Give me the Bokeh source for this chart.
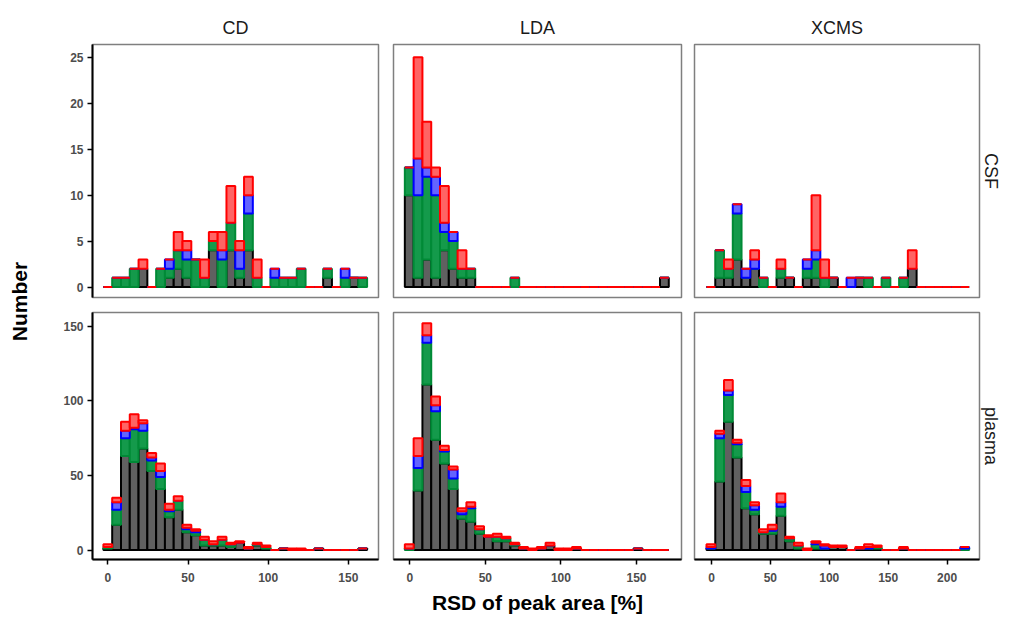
from math import pi
from bokeh.plotting import figure
from bokeh.models import Range1d, Title, FixedTicker, ColumnDataSource
from bokeh.layouts import row, column
from bokeh.core.properties import value
from bokeh.embed import file_html
from bokeh.resources import INLINE

# ---------------- data ----------------
methods = ["CD", "LDA", "XCMS"]
matrices = ["CSF", "plasma"]
layers = ["k", "g", "b", "r"]          # stacking order: bottom -> top

n_bins = 30
bin_start = {"CD": -2.8, "LDA": -3.3, "XCMS": -4.2}
bin_width = {"CD": 5.483, "LDA": 5.823, "XCMS": 7.43}

x_ticks = {"CD": [0, 50, 100, 150], "LDA": [0, 50, 100, 150], "XCMS": [0, 50, 100, 150, 200]}
y_ticks = {"CSF": [0, 5, 10, 15, 20, 25], "plasma": [0, 50, 100, 150]}

# CD / CSF
CD_CSF_k = [0,0,0,0,2,0,0,1,2,1, 0,0,4,0,4,1,4,0,0,0, 0,0,0,0,0,1,0,0,1,0]
CD_CSF_g = [0,1,1,2,0,0,2,1,2,2, 3,1,1,3,3,1,4,1,0,1, 1,1,2,0,0,1,0,1,0,1]
CD_CSF_b = [0,0,0,0,0,0,0,1,0,1, 0,0,0,1,0,2,2,0,0,1, 0,0,0,0,0,0,0,1,0,0]
CD_CSF_r = [0,0,0,0,1,0,0,0,2,1, 0,2,1,2,4,1,2,2,0,0, 0,0,0,0,0,0,0,0,0,0]
# LDA / CSF
LDA_CSF_k = [10,1,3,1,4,2,1,1,0,0, 0,0,0,0,0,0,0,0,0,0, 0,0,0,0,0,0,0,0,0,1]
LDA_CSF_g = [3,9,9,9,2,3,1,1,0,0, 0,0,1,0,0,0,0,0,0,0, 0,0,0,0,0,0,0,0,0,0]
LDA_CSF_b = [0,4,1,2,1,1,0,0,0,0, 0,0,0,0,0,0,0,0,0,0, 0,0,0,0,0,0,0,0,0,0]
LDA_CSF_r = [0,11,5,1,4,0,2,0,0,0, 0,0,0,0,0,0,0,0,0,0, 0,0,0,0,0,0,0,0,0,0]
# XCMS / CSF
XCMS_CSF_k = [0,1,1,3,1,2,0,0,1,1, 0,1,1,0,1,0,0,1,0,0, 0,0,0,2,0,0,0,0,0,0]
XCMS_CSF_g = [0,3,1,5,0,0,1,0,1,0, 0,1,2,1,0,0,0,0,1,0, 1,0,1,0,0,0,0,0,0,0]
XCMS_CSF_b = [0,0,0,1,1,1,0,0,0,0, 0,1,1,0,0,0,1,0,0,0, 0,0,0,0,0,0,0,0,0,0]
XCMS_CSF_r = [0,0,1,0,0,1,0,0,1,0, 0,0,6,2,0,0,0,0,0,0, 0,0,0,2,0,0,0,0,0,0]
# CD / plasma
CD_plasma_k = [1,17,63,59,68,53,41,22,27,12, 10,3,3,3,2,5,1,3,1,0, 1,0,0,0,1,0,0,0,0,1]
CD_plasma_g = [1,10,12,22,12,7,8,4,6,2, 2,4,1,4,2,0,0,1,1,0, 0,0,0,0,0,0,0,0,0,0]
CD_plasma_b = [0,5,5,1,5,2,4,1,0,1, 1,0,0,0,0,0,0,0,0,0, 0,0,0,0,0,0,0,0,0,0]
CD_plasma_r = [2,3,6,9,2,3,5,4,3,2, 1,2,2,2,1,1,1,1,1,0, 0,1,1,0,0,0,0,0,0,0]
# LDA / plasma
LDA_plasma_k = [0,40,111,74,58,41,21,19,11,9, 6,6,3,1,0,1,3,0,0,1, 0,0,0,0,0,0,1,0,0,0]
LDA_plasma_g = [1,15,28,19,8,7,3,9,3,0, 3,2,1,0,0,0,0,0,0,0, 0,0,0,0,0,0,0,0,0,0]
LDA_plasma_b = [0,8,5,4,1,6,2,1,0,0, 0,0,0,0,0,0,0,0,0,0, 0,0,0,0,0,0,0,0,0,0]
LDA_plasma_r = [3,12,8,6,3,2,2,3,2,1, 2,1,1,1,1,1,2,1,1,1, 0,0,0,0,0,0,0,0,0,0]
# XCMS / plasma
XCMS_plasma_k = [1,46,86,62,28,24,11,11,23,6, 1,0,1,1,2,2,0,1,1,1, 0,0,1,0,0,0,0,0,0,0]
XCMS_plasma_g = [0,29,18,9,11,3,1,2,6,2, 2,0,3,0,0,0,0,0,0,1, 0,0,0,0,0,0,0,0,0,1]
XCMS_plasma_b = [1,3,3,1,4,3,0,1,3,0, 0,0,1,2,0,0,0,0,1,0, 0,0,0,0,0,0,0,0,0,1]
XCMS_plasma_r = [2,2,7,2,4,2,2,3,6,1, 2,1,1,1,1,1,0,1,2,1, 0,0,1,0,0,0,0,0,0,0]

counts = {
    ("CD", "CSF"): [CD_CSF_k, CD_CSF_g, CD_CSF_b, CD_CSF_r],
    ("LDA", "CSF"): [LDA_CSF_k, LDA_CSF_g, LDA_CSF_b, LDA_CSF_r],
    ("XCMS", "CSF"): [XCMS_CSF_k, XCMS_CSF_g, XCMS_CSF_b, XCMS_CSF_r],
    ("CD", "plasma"): [CD_plasma_k, CD_plasma_g, CD_plasma_b, CD_plasma_r],
    ("LDA", "plasma"): [LDA_plasma_k, LDA_plasma_g, LDA_plasma_b, LDA_plasma_r],
    ("XCMS", "plasma"): [XCMS_plasma_k, XCMS_plasma_g, XCMS_plasma_b, XCMS_plasma_r],
}

# ---------------- styling ----------------
FONT = "Liberation Sans"
fill_colors = ["#606060", "#149A4B", "#6464FF", "#FF6464"]
line_colors = ["#000000", "#008A36", "#0000FF", "#FF0000"]

frame_w = {"CD": 286, "LDA": 288, "XCMS": 285}
frame_h = {"CSF": 253, "plasma": 251}
border_l = {"CD": 60, "LDA": 7, "XCMS": 7}
border_r = {"CD": 8, "LDA": 6, "XCMS": 24}
border_t = {"CSF": 44, "plasma": 8}
border_b = {"CSF": 7, "plasma": 53}
x_range = {"CD": (-9.6, 168.8), "LDA": (-10.8, 179.8), "XCMS": (-14.4, 227.5)}
y_range = {"CSF": (-1.143, 26.4), "plasma": (-6.3, 159.2)}


def style_axis(ax):
    ax.axis_line_color = "black"
    ax.axis_line_width = 2
    ax.major_tick_line_color = "black"
    ax.major_tick_line_width = 1.5
    ax.major_tick_out = 5
    ax.major_tick_in = 0
    ax.minor_tick_line_color = None
    ax.major_label_text_font = FONT
    ax.major_label_text_font_style = "bold"
    ax.major_label_text_color = "#4d4d4d"
    ax.major_label_text_font_size = "12px"
    ax.major_label_standoff = 4


def panel(m, mat):
    p = figure(
        width=border_l[m] + frame_w[m] + border_r[m],
        height=border_t[mat] + frame_h[mat] + border_b[mat],
        x_range=Range1d(*x_range[m]), y_range=Range1d(*y_range[mat]),
        output_backend="svg", toolbar_location=None,
        x_axis_location="below" if mat == "plasma" else None,
        y_axis_location="left" if m == "CD" else None,
        min_border_left=border_l[m], min_border_right=border_r[m],
        min_border_top=border_t[mat], min_border_bottom=border_b[mat],
        title=m if mat == "CSF" else None,
    )
    p.grid.visible = False
    p.outline_line_color = "#7f7f7f"
    p.outline_line_width = 1.5
    p.background_fill_color = "white"
    p.border_fill_color = "white"

    if mat == "CSF":
        p.title.align = "center"
        p.title.text_font = FONT
        p.title.text_font_size = "18px"
        p.title.text_font_style = "normal"
        p.title.text_color = "#1a1a1a"
        p.title.standoff = 14
    if m == "XCMS":
        p.add_layout(Title(text=mat, align="center", text_font=FONT, text_font_size="18px",
                           text_font_style="normal", text_color="#1a1a1a", standoff=2), "right")
    if mat == "plasma":
        p.xaxis.ticker = FixedTicker(ticks=x_ticks[m])
        style_axis(p.xaxis[0])
        p.xaxis.major_label_standoff = 8
    if m == "CD":
        p.yaxis.ticker = FixedTicker(ticks=y_ticks[mat])
        style_axis(p.yaxis[0])
    if m == "LDA" and mat == "plasma":
        p.xaxis.axis_label = "RSD of peak area [%]"
        p.xaxis.axis_label_text_font = FONT
        p.xaxis.axis_label_text_font_style = "bold"
        p.xaxis.axis_label_text_font_size = "21px"
        p.xaxis.axis_label_text_color = "black"
        p.xaxis.axis_label_standoff = 6

    data = {"x": [bin_start[m] + bin_width[m] * (i + 0.5) for i in range(n_bins)]}
    for name, vals in zip(layers, counts[(m, mat)]):
        data[name] = vals
    src = ColumnDataSource(data)
    p.vbar_stack(layers, x="x", width=bin_width[m], source=src,
                 fill_color=fill_colors, line_color=line_colors, line_width=2)
    return p


rows = []
for mat in matrices:
    rows.append(row([panel(m, mat) for m in methods], spacing=0))

total_h = sum(border_t[mt] + frame_h[mt] + border_b[mt] for mt in matrices)
ylab = figure(width=32, height=total_h, x_range=Range1d(0, 32), y_range=Range1d(0, total_h),
              output_backend="svg", toolbar_location=None, min_border=0,
              x_axis_location=None, y_axis_location=None)
ylab.outline_line_color = None
ylab.grid.visible = False
ylab.text(x=[19], y=[total_h - 301], text=["Number"], angle=pi / 2,
          text_align="center", text_baseline="middle", text_font=value(FONT),
          text_font_style="bold", text_font_size="21px", text_color="black")

layout = row(ylab, column(rows, spacing=0), spacing=0)

open("out.html", "w").write(file_html(layout, INLINE))
